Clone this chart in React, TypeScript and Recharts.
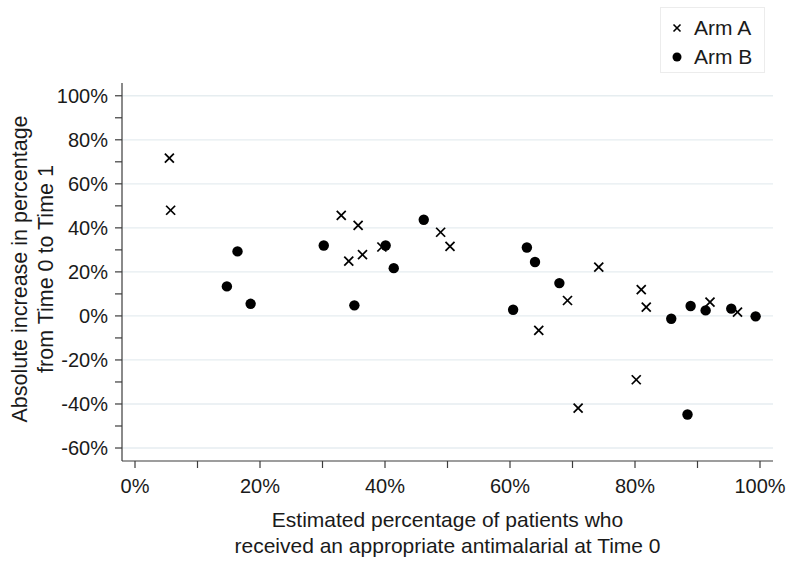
import React from "react";
import {
  ScatterChart,
  Scatter,
  XAxis,
  YAxis,
  ReferenceLine,
  Legend,
} from "recharts";

// Arm A (crosses): estimated % appropriate at Time 0 vs absolute increase
const armAX = [5.5, 5.7, 33.0, 35.7, 34.2, 36.4, 39.5, 48.9, 50.4, 74.2, 69.2, 64.6, 81.0, 81.8, 92.0, 96.4, 80.2, 70.9];
const armAY = [71.7, 48.0, 45.7, 41.1, 24.9, 27.8, 31.3, 38.0, 31.6, 22.2, 7.0, -6.6, 11.9, 4.0, 6.3, 1.7, -29.0, -41.9];

// Arm B (dots)
const armBX = [16.4, 14.7, 18.5, 30.2, 40.1, 41.4, 35.1, 46.2, 62.7, 64.0, 67.9, 60.5, 85.8, 88.9, 91.3, 95.4, 99.3, 88.4];
const armBY = [29.3, 13.4, 5.5, 32.0, 32.0, 21.7, 4.8, 43.7, 31.1, 24.5, 14.9, 2.8, -1.3, 4.5, 2.5, 3.3, -0.2, -44.8];

const xTicks = [0, 10, 20, 30, 40, 50, 60, 70, 80, 90, 100];
const yTicks = [-60, -50, -40, -30, -20, -10, 0, 10, 20, 30, 40, 50, 60, 70, 80, 90, 100];
const gridValues = [-60, -40, -20, 0, 20, 40, 60, 80, 100];
const seriesNames = ["Arm A", "Arm B"];

const FONT = "'Liberation Sans', Arial, Helvetica, sans-serif";
const TEXT = "#1a1a1a";
const AXIS = "#3c3c3c";

const armA = armAX.map((x, i) => ({ x, y: armAY[i] }));
const armB = armBX.map((x, i) => ({ x, y: armBY[i] }));

const Cross = (props: any) => {
  const { cx, cy } = props;
  const s = 4.5;
  return (
    <g stroke="#000" strokeWidth={1.7}>
      <line x1={cx - s} y1={cy - s} x2={cx + s} y2={cy + s} />
      <line x1={cx - s} y1={cy + s} x2={cx + s} y2={cy - s} />
    </g>
  );
};

const Dot = (props: any) => {
  const { cx, cy } = props;
  return <circle cx={cx} cy={cy} r={5.2} fill="#000" />;
};

// only every 20% gets a label, the 10% ticks are bare
const XTick = (props: any) => {
  const { x, y, payload } = props;
  if (payload.value % 20 !== 0) return null;
  return (
    <text x={x} y={y} dy="0.71em" textAnchor="middle" fontSize={20} fontFamily={FONT} fill={TEXT}>
      {payload.value}%
    </text>
  );
};

const YTick = (props: any) => {
  const { x, y, payload } = props;
  if (payload.value % 20 !== 0) return null;
  return (
    <text x={x} y={y} dy="0.36em" textAnchor="end" fontSize={20} fontFamily={FONT} fill={TEXT}>
      {payload.value}%
    </text>
  );
};

const XTitle = ({ viewBox }: any) => {
  const cx = viewBox.x + viewBox.width / 2;
  return (
    <g fontSize={21} fontFamily={FONT} fill={TEXT} textAnchor="middle">
      <text x={cx} y={527}>Estimated percentage of patients who</text>
      <text x={cx} y={553}>received an appropriate antimalarial at Time 0</text>
    </g>
  );
};

const YTitle = ({ viewBox }: any) => {
  const cy = viewBox.y + viewBox.height / 2 - 3;
  return (
    <g fontSize={21.5} fontFamily={FONT} fill={TEXT} textAnchor="middle">
      <text x={27} y={cy} transform={`rotate(-90, 27, ${cy})`}>
        Absolute increase in percentage
      </text>
      <text x={53} y={cy} transform={`rotate(-90, 53, ${cy})`}>
        from Time 0 to Time 1
      </text>
    </g>
  );
};

const LegendBox = () => (
  <div
    style={{
      border: "1px solid #ececec",
      background: "#fff",
      width: 105,
      height: 66,
      boxSizing: "border-box",
      fontFamily: FONT,
      fontSize: 21,
      color: TEXT,
      paddingTop: 5,
    }}
  >
    {seriesNames.map((name, i) => (
      <div key={name} style={{ display: "flex", alignItems: "center", height: 29 }}>
        <svg width={33} height={20}>
          {i === 0 ? (
            <g stroke="#000" strokeWidth={1.6}>
              <line x1={12.5} y1={6.5} x2={19.5} y2={13.5} />
              <line x1={12.5} y1={13.5} x2={19.5} y2={6.5} />
            </g>
          ) : (
            <circle cx={16} cy={10} r={4.5} fill="#000" />
          )}
        </svg>
        <span>{name}</span>
      </div>
    ))}
  </div>
);

export default function App() {
  return (
    <div style={{ position: "absolute", left: 0, top: 0, background: "#fff" }}>
      <ScatterChart
        width={793}
        height={565}
        margin={{ top: 83, right: 20, bottom: 0, left: 0 }}
      >
        <XAxis
          type="number"
          dataKey="x"
          domain={[-2.08, 102.08]}
          allowDataOverflow
          ticks={xTicks}
          interval={0}
          tick={<XTick />}
          tickSize={7}
          tickMargin={11}
          axisLine={{ stroke: AXIS, strokeWidth: 1.2 }}
          tickLine={{ stroke: AXIS, strokeWidth: 1.2 }}
          height={104}
          label={{ content: XTitle }}
        />
        <YAxis
          type="number"
          dataKey="y"
          domain={[-65.9, 105.8]}
          allowDataOverflow
          ticks={yTicks}
          interval={0}
          tick={<YTick />}
          tickSize={7}
          tickMargin={7}
          width={122}
          axisLine={{ stroke: AXIS, strokeWidth: 1.2 }}
          tickLine={{ stroke: AXIS, strokeWidth: 1.2 }}
          label={{ content: YTitle }}
        />
        {gridValues.map((v) => (
          <ReferenceLine key={v} y={v} stroke="#e6edf0" strokeWidth={1.3} />
        ))}
        <Legend
          layout="vertical"
          align="center"
          verticalAlign="middle"
          content={LegendBox}
          wrapperStyle={{ position: "absolute", left: 660, top: 7, width: 105, height: 66 }}
        />
        <Scatter name="Arm A" data={armA} shape={Cross} isAnimationActive={false} />
        <Scatter name="Arm B" data={armB} shape={Dot} isAnimationActive={false} />
      </ScatterChart>
    </div>
  );
}
